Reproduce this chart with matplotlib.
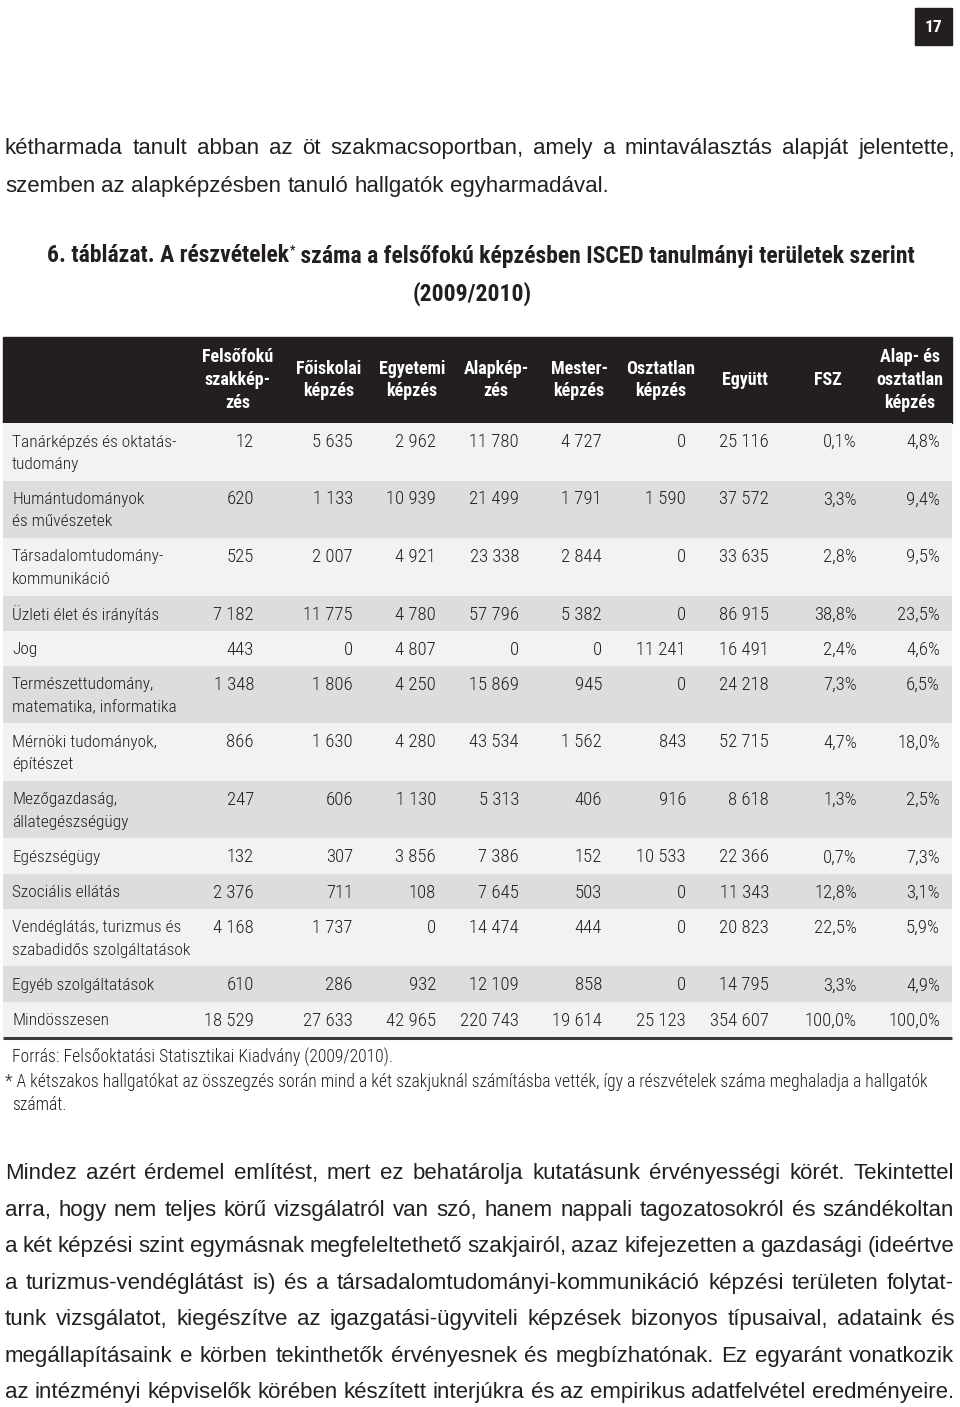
import matplotlib.pyplot as plt
from matplotlib.patches import Rectangle

NARROW = ['Roboto Condensed', 'DejaVu Sans']
SANS = ['Liberation Sans', 'DejaVu Sans']
INK = '#231f20'

# page text
page_no = "17"
intro_lines = [
    "kétharmada tanult abban az öt szakmacsoportban, amely a mintaválasztás alapját jelentette,",
    "szemben az alapképzésben tanuló hallgatók egyharmadával.",
]
title_left = "6. táblázat. A részvételek"
title_right = " száma a felsőfokú képzésben ISCED tanulmányi területek szerint"
subtitle = "(2009/2010)"

# table data
col_headers = ["Felsőfokú\nszakkép-\nzés", "Főiskolai\nképzés", "Egyetemi\nképzés",
               "Alapkép-\nzés", "Mester-\nképzés", "Osztatlan\nképzés", "Együtt",
               "FSZ", "Alap- és\nosztatlan\nképzés"]
categories = ["Tanárképzés és oktatás-\ntudomány", "Humántudományok\nés művészetek",
              "Társadalomtudomány-\nkommunikáció", "Üzleti élet és irányítás", "Jog",
              "Természettudomány,\nmatematika, informatika", "Mérnöki tudományok,\népítészet",
              "Mezőgazdaság,\nállategészségügy", "Egészségügy", "Szociális ellátás",
              "Vendéglátás, turizmus és\nszabadidős szolgáltatások", "Egyéb szolgáltatások",
              "Mindösszesen"]
felsofoku = [12, 620, 525, 7182, 443, 1348, 866, 247, 132, 2376, 4168, 610, 18529]
foiskolai = [5635, 1133, 2007, 11775, 0, 1806, 1630, 606, 307, 711, 1737, 286, 27633]
egyetemi = [2962, 10939, 4921, 4780, 4807, 4250, 4280, 1130, 3856, 108, 0, 932, 42965]
alapkepzes = [11780, 21499, 23338, 57796, 0, 15869, 43534, 5313, 7386, 7645, 14474, 12109, 220743]
mesterkepzes = [4727, 1791, 2844, 5382, 0, 945, 1562, 406, 152, 503, 444, 858, 19614]
osztatlan = [0, 1590, 0, 0, 11241, 0, 843, 916, 10533, 0, 0, 0, 25123]
egyutt = [25116, 37572, 33635, 86915, 16491, 24218, 52715, 8618, 22366, 11343, 20823, 14795, 354607]
fsz_pct = [0.1, 3.3, 2.8, 38.8, 2.4, 7.3, 4.7, 1.3, 0.7, 12.8, 22.5, 3.3, 100.0]
alap_oszt_pct = [4.8, 9.4, 9.5, 23.5, 4.6, 6.5, 18.0, 2.5, 7.3, 3.1, 5.9, 4.9, 100.0]

source_note = "Forrás: Felsőoktatási Statisztikai Kiadvány (2009/2010)."
footnote_lines = [
    "* A kétszakos hallgatókat az összegzés során mind a két szakjuknál számításba vették, így a részvételek száma meghaladja a hallgatók",
    "számát.",
]
body_lines = [
    "Mindez azért érdemel említést, mert ez behatárolja kutatásunk érvényességi körét. Tekintettel",
    "arra, hogy nem teljes körű vizsgálatról van szó, hanem nappali tagozatosokról és szándékoltan",
    "a két képzési szint egymásnak megfeleltethető szakjairól, azaz kifejezetten a gazdasági (ideértve",
    "a turizmus-vendéglátást is) és a társadalomtudományi-kommunikáció képzési területen folytat-",
    "tunk vizsgálatot, kiegészítve az igazgatási-ügyviteli képzések bizonyos típusaival, adataink és",
    "megállapításaink e körben tekinthetők érvényesnek és megbízhatónak. Ez egyaránt vonatkozik",
    "az intézményi képviselők körében készített interjúkra és az empirikus adatfelvétel eredményeire.",
]


def fmt_int(v):
    return f"{v:,}".replace(",", " ")


def fmt_pct(v):
    return f"{v:.1f}%".replace(".", ",")


columns = [
    [fmt_int(v) for v in felsofoku], [fmt_int(v) for v in foiskolai],
    [fmt_int(v) for v in egyetemi], [fmt_int(v) for v in alapkepzes],
    [fmt_int(v) for v in mesterkepzes], [fmt_int(v) for v in osztatlan],
    [fmt_int(v) for v in egyutt], [fmt_pct(v) for v in fsz_pct],
    [fmt_pct(v) for v in alap_oszt_pct],
]

# layout (pixels)
head_cx = [238, 329, 412, 496, 579, 661, 745, 828, 910]
num_right = [254, 353, 436, 519, 602, 686, 769, 857, 940]
tab_left, tab_right = 3, 952
head_top, head_bot = 337, 423

fig = plt.figure(figsize=(9.6, 14.07), dpi=100)
ax = fig.add_axes([0, 0, 1, 1])
ax.set_xlim(0, 960)
ax.set_ylim(1407, 0)
ax.axis('off')
renderer = fig.canvas.get_renderer()


def width_of(t):
    return t.get_window_extent(renderer).width


def space_width(size):
    # width of one word space at this size
    a = ax.text(0, 700, 'a a', fontsize=size, family=SANS)
    b = ax.text(0, 700, 'a', fontsize=size, family=SANS)
    w = width_of(a) - 2 * width_of(b)
    a.remove()
    b.remove()
    return w


def paragraph(lines, x0, x1, y0, step, size, last_justified, min_gap=4.5):
    # justified text block; one font size for the whole block so the widest line fits
    rows = []
    scale = 1.0
    for line in lines:
        texts = [ax.text(0, 0, w, va='baseline', fontsize=size, family=SANS, color=INK)
                 for w in line.split(' ')]
        total = sum(width_of(t) for t in texts)
        scale = min(scale, (x1 - x0 - min_gap * (len(texts) - 1)) / total)
        rows.append(texts)
    size = size * scale
    for k, texts in enumerate(rows):
        base = y0 + k * step + 0.33 * size * 100 / 72
        for t in texts:
            t.set_fontsize(size)
            t.set_y(base)
        widths = [width_of(t) for t in texts]
        if k == len(rows) - 1 and not last_justified:
            gap = space_width(size)
        else:
            gap = (x1 - x0 - sum(widths)) / max(len(texts) - 1, 1)
        x = x0
        for t, w in zip(texts, widths):
            t.set_x(x)
            x += w + gap


# page number
ax.add_patch(Rectangle((915, 8), 37, 37, color=INK))
ax.text(933.5, 27, page_no, color='white', ha='center', va='center',
        fontsize=12.5, fontweight='bold', family=NARROW)

# intro paragraph
paragraph(intro_lines, 5, 955, 147, 38, 16, last_justified=False)

# title with superscript asterisk
tkw = dict(fontsize=17, fontweight='bold', family=NARROW, color=INK)
t1 = ax.text(0, 256, title_left, va='center', **tkw)
t2 = ax.text(0, 250, "*", va='center', fontsize=8.5, fontweight='bold', family=NARROW, color=INK)
t3 = ax.text(0, 256, title_right, va='center', **tkw)
w1, w2, w3 = width_of(t1), width_of(t2), width_of(t3)
x = 481 - (w1 + w2 + w3) / 2
t1.set_x(x)
t2.set_x(x + w1)
t3.set_x(x + w1 + w2)
ax.text(472, 294, subtitle, ha='center', va='center', **tkw)

# header band
ax.add_patch(Rectangle((tab_left, head_top), tab_right - tab_left, head_bot - head_top, color=INK))
for cx, h in zip(head_cx, col_headers):
    parts = h.split('\n')
    y0 = 380 - (len(parts) - 1) * 22.5 / 2
    for k, p in enumerate(parts):
        ax.text(cx, y0 + k * 22.5, p, ha='center', va='center', color='white',
                fontsize=13, fontweight='bold', family=NARROW)

# body rows
y = head_bot
for i, cat in enumerate(categories):
    parts = cat.split('\n')
    h = 35.2 if len(parts) == 1 else 57.5
    ax.add_patch(Rectangle((tab_left, y), tab_right - tab_left, h,
                           color='#f1f2f2' if i % 2 == 0 else '#dcdddf', lw=0))
    for k, p in enumerate(parts):
        ax.text(12, y + 19 + k * 22.5, p, va='center', fontsize=12.5, fontweight=300,
                family=NARROW, color=INK)
    for j, col in enumerate(columns):
        ax.text(num_right[j], y + 19, col[i], ha='right', va='center',
                fontsize=13.5, fontweight=300, family=NARROW, color=INK)
    y += h
ax.plot([tab_left, tab_right], [y + 1.5, y + 1.5], color='#3a3a3a', lw=2.2, solid_capstyle='butt')

# notes
nkw = dict(va='center', fontsize=12.7, fontweight=300, family=NARROW, color=INK)
ax.text(12, 1057, source_note, **nkw)
ax.text(5, 1082, footnote_lines[0], **nkw)
ax.text(12, 1105, footnote_lines[1], **nkw)

# closing paragraph
paragraph(body_lines, 5, 954, 1172, 36.5, 16, last_justified=True)

fig.savefig('out.png', dpi=100)
